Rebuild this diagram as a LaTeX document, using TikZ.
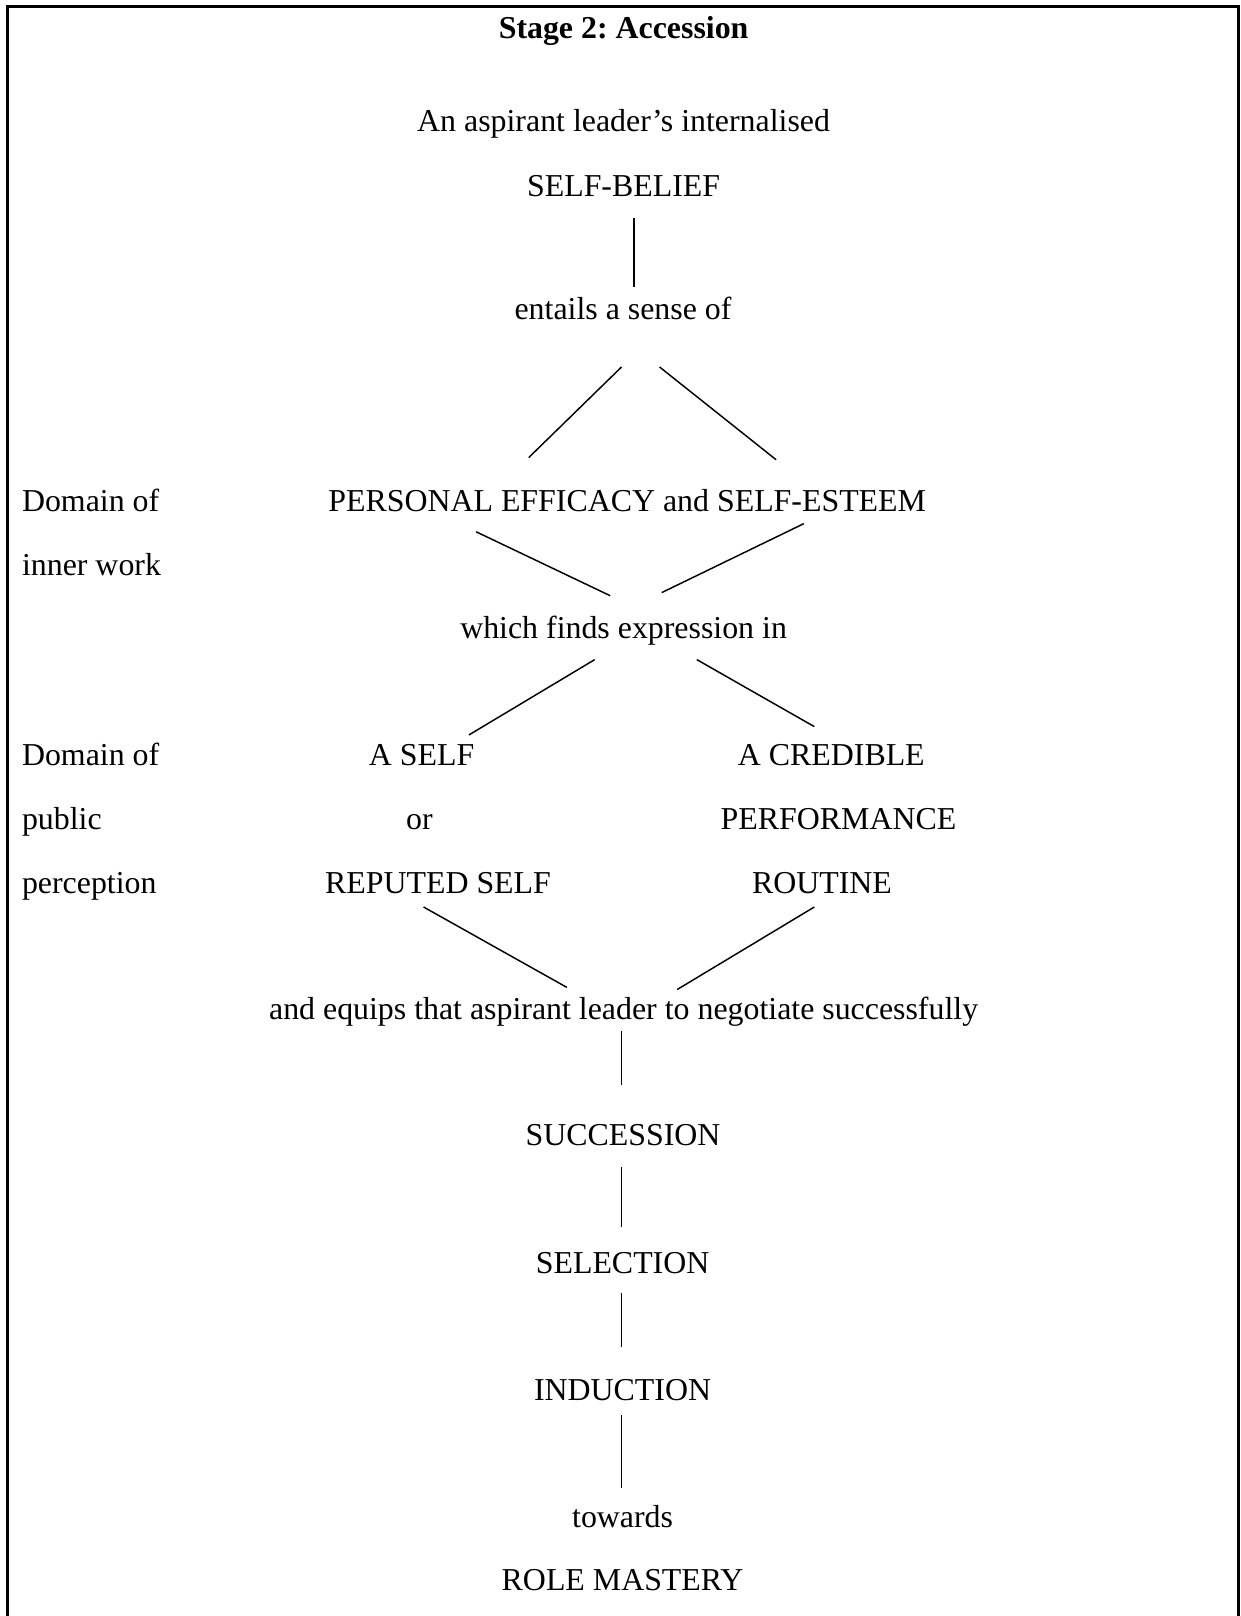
\documentclass[tikz,border=0pt]{standalone}
\usepackage{fontspec}
\setmainfont{Liberation Serif}
\frenchspacing
\begin{document}
\begin{tikzpicture}[x=0.48pt,y=-0.48pt,
  txt/.style={anchor=base,inner sep=0pt,font=\fontsize{15.3pt}{18pt}\selectfont},
  side/.style={txt,anchor=base west},
  link/.style={line width=0.7pt,black}]
\useasboundingbox (0,0) rectangle (1241,1616);
% open frame: left, top and right edges
\draw[line width=1.1pt] (7.5,1616) -- (7.5,6.5) -- (1238.5,6.5) -- (1238.5,1616);

% central column
\node[txt,font=\fontsize{15.3pt}{18pt}\selectfont\bfseries] (title) at (623.6,38) {Stage 2: Accession};
\node[txt] (asp) at (623.6,131) {An aspirant leader’s internalised};
\node[txt] (belief) at (623.6,196) {SELF-BELIEF};
\node[txt] (entails) at (623,319) {entails a sense of};
\node[txt] (pe) at (627.2,511) {PERSONAL EFFICACY and SELF-ESTEEM};
\node[txt] (finds) at (623.6,638) {which finds expression in};
\node[txt] (aself) at (421.6,765) {A SELF};
\node[txt] (or) at (419.5,829) {or};
\node[txt] (reputed) at (438,893) {REPUTED SELF};
\node[txt] (cred) at (831.3,765) {A CREDIBLE};
\node[txt] (perf) at (838.5,829) {PERFORMANCE};
\node[txt] (routine) at (822,893) {ROUTINE};
\node[txt] (equips) at (623.6,1019) {and equips that aspirant leader to negotiate successfully};
\node[txt] (succ) at (623,1145) {SUCCESSION};
\node[txt] (sel) at (622.6,1273) {SELECTION};
\node[txt] (ind) at (622.6,1400) {INDUCTION};
\node[txt] (tow) at (622.6,1527) {towards};
\node[txt] (role) at (622.6,1590) {ROLE MASTERY};

% domain labels on the left
\node[side] (d1a) at (21.6,511) {Domain of};
\node[side] (d1b) at (21.6,575) {inner work};
\node[side] (d2a) at (21.6,765) {Domain of};
\node[side] (d2b) at (21.6,829) {public};
\node[side] (d2c) at (21.6,893) {perception};

% connector end points
\coordinate (v1a) at (634,218);   \coordinate (v1b) at (634,287);
\coordinate (l1a) at (621.5,367); \coordinate (l1b) at (528.7,457.6);
\coordinate (r1a) at (659.6,367); \coordinate (r1b) at (776.1,459.7);
\coordinate (l2a) at (476.2,531.8); \coordinate (l2b) at (610.2,595.7);
\coordinate (r2a) at (803.9,523.6); \coordinate (r2b) at (661.7,592.6);
\coordinate (l3a) at (594.7,659.6); \coordinate (l3b) at (469,734.9);
\coordinate (r3a) at (696.8,659.6); \coordinate (r3b) at (814.3,726.6);
\coordinate (l4a) at (423.6,907);  \coordinate (l4b) at (566.9,987.4);
\coordinate (r4a) at (814.3,907);  \coordinate (r4b) at (677.2,989.5);
\coordinate (v2a) at (621.5,1030.7); \coordinate (v2b) at (621.5,1085.3);
\coordinate (v3a) at (621.5,1166.7); \coordinate (v3b) at (621.5,1226.5);
\coordinate (v4a) at (621.5,1293.4); \coordinate (v4b) at (621.5,1347.1);
\coordinate (v5a) at (621.5,1415.2); \coordinate (v5b) at (621.5,1488.3);

\draw[link] (v1a) -- (v1b);
\draw[link] (l1a) -- (l1b);
\draw[link] (r1a) -- (r1b);
\draw[link] (l2a) -- (l2b);
\draw[link] (r2a) -- (r2b);
\draw[link] (l3a) -- (l3b);
\draw[link] (r3a) -- (r3b);
\draw[link] (l4a) -- (l4b);
\draw[link] (r4a) -- (r4b);
\draw[link] (v2a) -- (v2b);
\draw[link] (v3a) -- (v3b);
\draw[link] (v4a) -- (v4b);
\draw[link] (v5a) -- (v5b);
\end{tikzpicture}
\end{document}
